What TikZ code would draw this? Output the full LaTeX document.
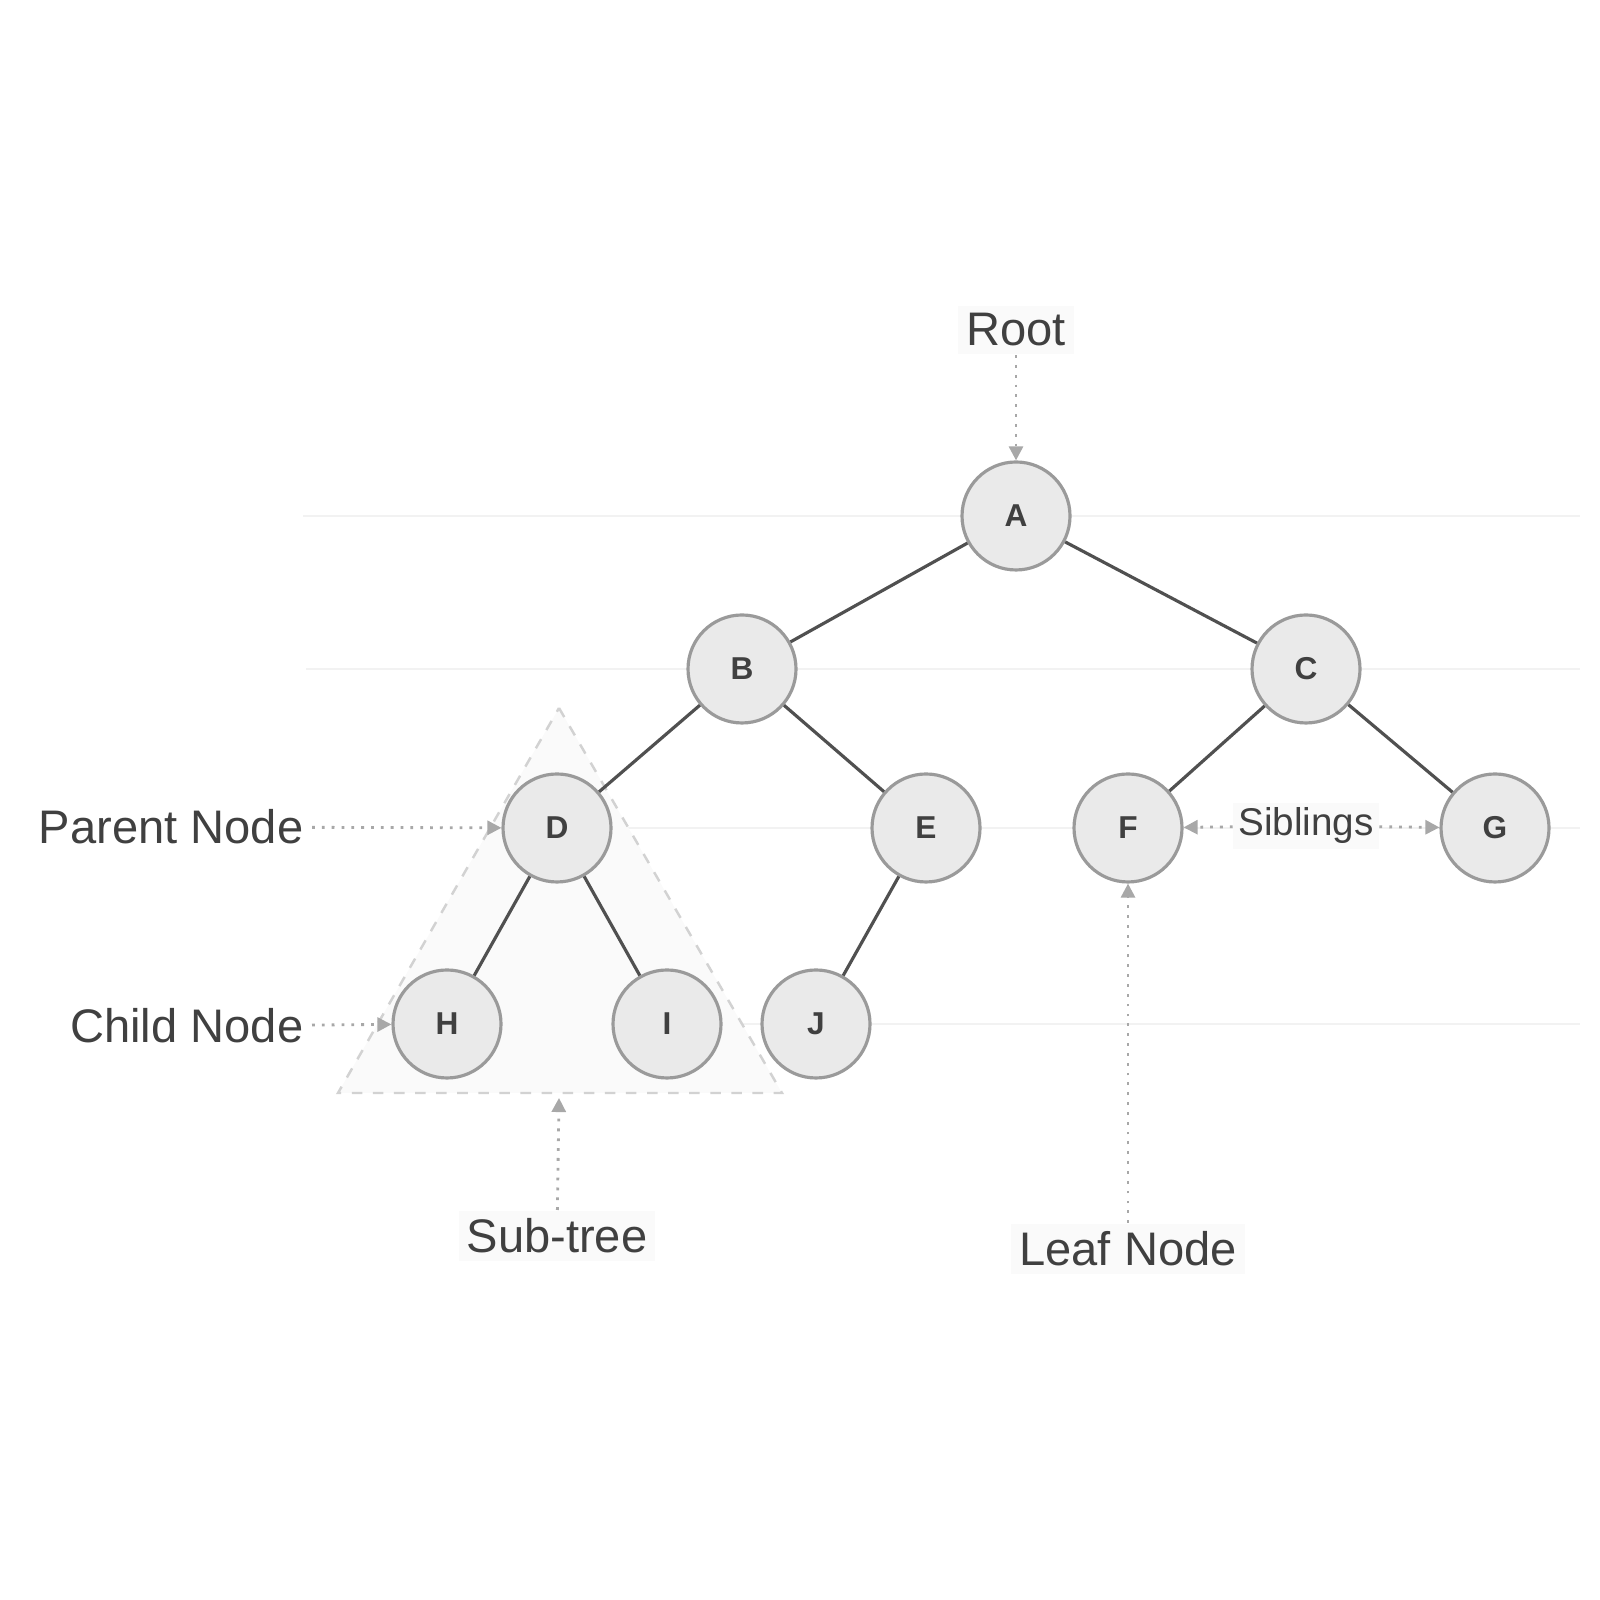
\documentclass[tikz,border=0pt]{standalone}
\usepackage{fontspec}
\setmainfont{Liberation Sans}
\usepackage{xcolor}
\usepackage{tikz}
\usetikzlibrary{arrows.meta}
\definecolor{ringgray}{HTML}{9A9A9A}
\definecolor{ballgray}{HTML}{EAEAEA}
\definecolor{edgegray}{HTML}{505050}
\definecolor{textgray}{HTML}{404040}
\definecolor{pointgray}{HTML}{A8A8A8}
\definecolor{levelgray}{HTML}{F2F2F2}

\begin{document}
\begin{tikzpicture}[
    ball/.style={circle, draw=ringgray, fill=ballgray, line width=0.9pt, minimum size=1.08cm, inner sep=0pt, text=textgray, font=\fontsize{9}{11}\selectfont\bfseries},
    tag/.style={inner sep=0.08cm, fill=black!2, text=textgray, font=\fontsize{13.4}{16}\selectfont},
    pointer/.style={pointgray, line width=0.8pt, dotted, -{Triangle[length=4pt,width=4pt]}},
    branch/.style={edgegray, line width=0.9pt},
    level/.style={levelgray, line width=0.8pt}]
    %BATAS
    \useasboundingbox (0,0) rectangle (16,16);
    %GARIS LEVEL
    \draw[level] (3.03,10.84) -- (15.80,10.84);
    \draw[level] (3.06,9.31) -- (15.80,9.31);
    \draw[level] (6.20,7.72) -- (15.80,7.72);
    \draw[level] (5.00,5.76) -- (15.80,5.76);
    %SUB-TREE
    \coordinate (apex) at (5.59,8.92);
    \coordinate (baseL) at (3.38,5.07);
    \coordinate (baseR) at (7.82,5.07);
    \coordinate (baseM) at (5.59,5.07);
    \draw[gray!35, fill=black!2, line width=0.7pt, dashed] (apex) -- (baseR) -- (baseL) -- cycle;
    %NODES
    \node[ball] (A) at (10.16,10.84) {A};
    \node[ball] (B) at (7.42,9.31) {B};
    \node[ball] (C) at (13.06,9.31) {C};
    \node[ball] (D) at (5.57,7.72) {D};
    \node[ball] (E) at (9.26,7.72) {E};
    \node[ball] (F) at (11.28,7.72) {F};
    \node[ball] (G) at (14.95,7.72) {G};
    \node[ball] (H) at (4.47,5.76) {H};
    \node[ball] (I) at (6.67,5.76) {I};
    \node[ball] (J) at (8.16,5.76) {J};
    %CABANG
    \draw[branch] (A) -- (B);
    \draw[branch] (A) -- (C);
    \draw[branch] (B) -- (D);
    \draw[branch] (B) -- (E);
    \draw[branch] (C) -- (F);
    \draw[branch] (C) -- (G);
    \draw[branch] (D) -- (H);
    \draw[branch] (D) -- (I);
    \draw[branch] (E) -- (J);
    %LABEL
    \node[tag] (root) at (10.16,12.70) {Root};
    \node[tag, fill=none, anchor=east] (parent) at (3.12,7.73) {Parent Node};
    \node[tag, fill=none, anchor=east] (child) at (3.12,5.74) {Child Node};
    \node[tag] (subtree) at (5.57,3.64) {Sub-tree};
    \node[tag] (leaf) at (11.28,3.51) {Leaf Node};
    \node[tag, inner sep=0.05cm, font=\fontsize{11}{13}\selectfont] (sib) at (13.06,7.74) {Siblings};
    %PANAH
    \draw[pointer] (root) -- (A);
    \draw[pointer] (parent) -- (D);
    \draw[pointer] (child) -- (H);
    \draw[pointer] (subtree) -- ([yshift=-0.05cm]baseM);
    \draw[pointer] (leaf) -- (F);
    \draw[pointer] (sib) -- (F);
    \draw[pointer] (sib) -- (G);
\end{tikzpicture}
\end{document}
